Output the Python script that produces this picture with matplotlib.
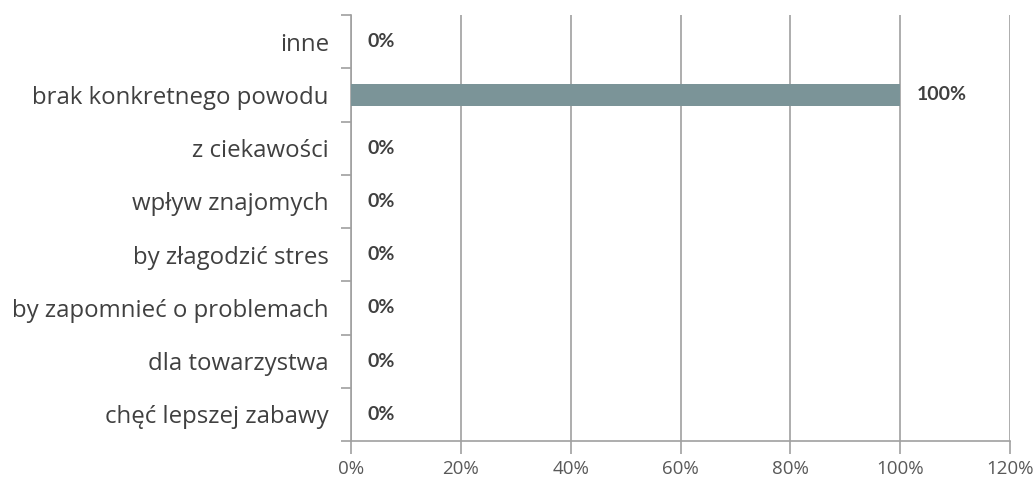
import matplotlib.pyplot as plt
from matplotlib.ticker import FixedLocator, PercentFormatter

plt.rcParams['font.family'] = ['Open Sans', 'DejaVu Sans']

reasons = ['chęć lepszej zabawy', 'dla towarzystwa', 'by zapomnieć o problemach',
           'by złagodzić stres', 'wpływ znajomych', 'z ciekawości',
           'brak konkretnego powodu', 'inne']
shares = [0, 0, 0, 0, 0, 0, 1.0, 0]
x_ticks = [0, 0.2, 0.4, 0.6, 0.8, 1.0, 1.2]

grey = '#a0a0a0'

fig = plt.figure(figsize=(10.36, 4.87), dpi=100)
ax = fig.add_axes([0.3388, 0.0945, 0.975 - 0.3388, 0.969 - 0.0945])

pos = range(len(reasons))
ax.barh(pos, shares, height=0.41, color='#7b9498', zorder=3)

for y, v in zip(pos, shares):
    ax.annotate(f'{v:.0%}', (v, y), xytext=(12, 0), textcoords='offset points',
                ha='left', va='center', fontsize=14, fontweight='bold', color='#404040',
                family=['Lato', 'DejaVu Sans'])

ax.set_xlim(0, 1.2)
ax.set_ylim(-0.5, len(reasons) - 0.5)
ax.set_xticks(x_ticks)
ax.xaxis.set_major_formatter(PercentFormatter(1.0, decimals=0))
ax.set_yticks(list(pos))
ax.set_yticklabels(reasons)
ax.yaxis.set_minor_locator(FixedLocator([i - 0.5 for i in range(len(reasons) + 1)]))

ax.tick_params(axis='y', which='major', length=0, pad=16, labelsize=17.3, labelcolor='#404040')
ax.tick_params(axis='y', which='minor', length=7, color=grey, width=1.2)
ax.tick_params(axis='x', which='major', length=9, color=grey, width=1.2, pad=5,
               labelsize=13.5, labelcolor='#595959')

ax.grid(axis='x', color=grey, linewidth=1.2, zorder=0)
for s in ['top', 'right']:
    ax.spines[s].set_visible(False)
for s in ['left', 'bottom']:
    ax.spines[s].set_color(grey)
    ax.spines[s].set_linewidth(1.2)

fig.savefig('out.png', dpi=100)
